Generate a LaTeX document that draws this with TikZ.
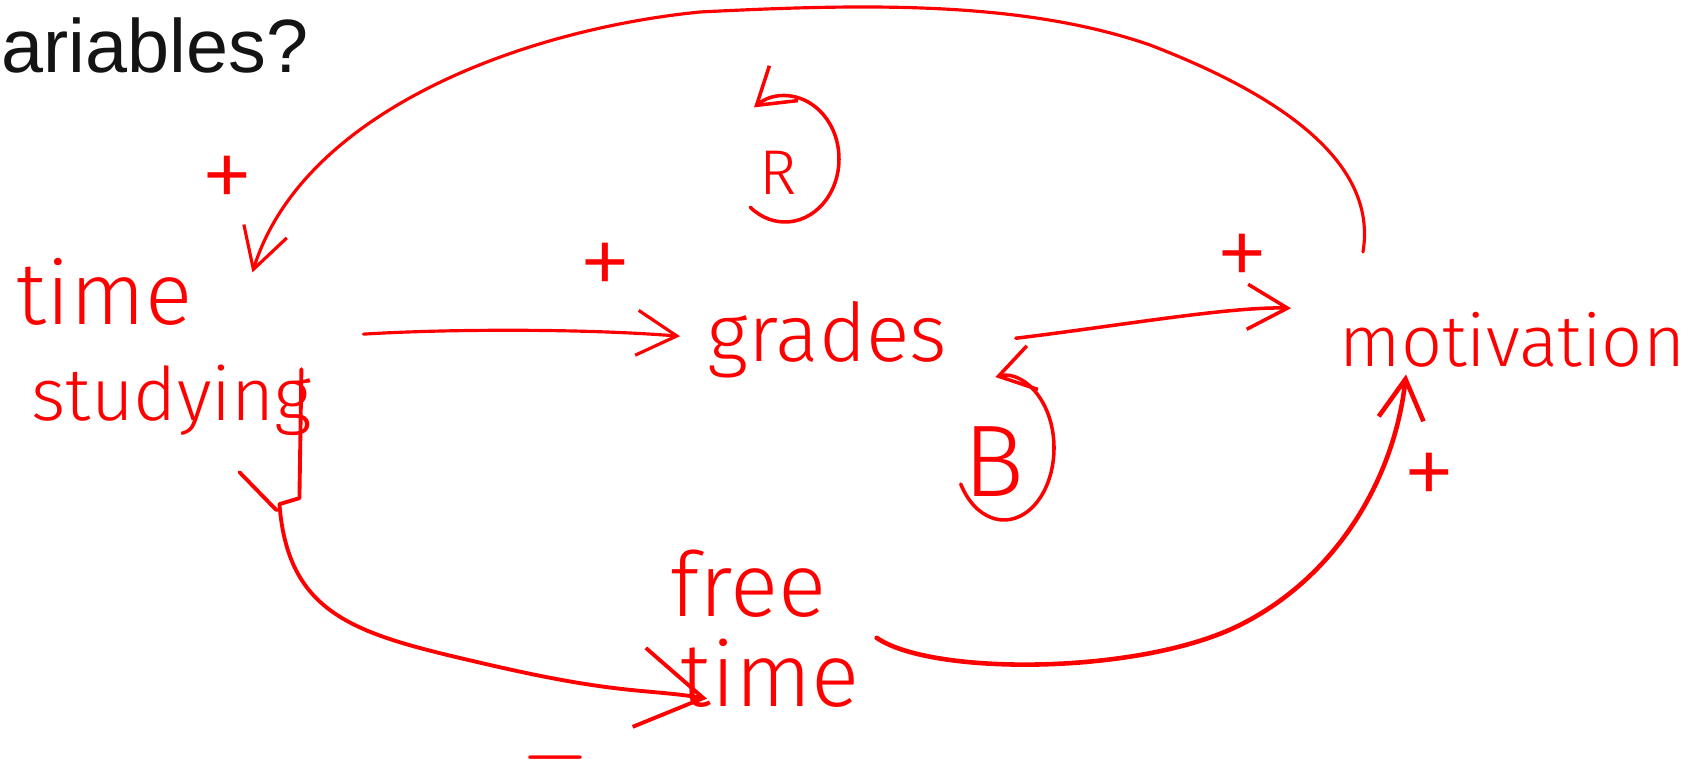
\documentclass[tikz,border=0pt]{standalone}
\usepackage{fontspec}
\usetikzlibrary{arrows.meta,positioning,calc}
\newfontfamily\slidefont{Liberation Sans}
\newfontfamily\handfont{Fira Sans Light}
\definecolor{inkred}{RGB}{255,0,0}
\definecolor{slidetext}{gray}{0.08}
\tikzset{
  varnode/.style={
    text=inkred, font=\handfont\fontsize{21}{27.5}\selectfont,
    align=left, inner sep=0pt, anchor=base west
  },
  polarity/.style={
    text=inkred, font=\handfont\fontsize{31}{31}\selectfont, inner sep=0pt
  },
  looplabel/.style={
    text=inkred, font=\handfont\fontsize{18}{18}\selectfont, inner sep=0pt
  },
  inkline/.style={draw=inkred, line width=0.9pt, line cap=round, line join=round},
  link/.style={inkline, -{Straight Barb[length=4mm, width=4.5mm]}},
  loopmark/.style={inkline, line width=1pt, -{Straight Barb[length=3.5mm, width=4.5mm]}}
}

\begin{document}
\begin{tikzpicture}
  \useasboundingbox (0,0) rectangle (16.93,7.80);

  % slide title, cut at the left edge
  \node[anchor=base west, inner sep=0pt, text=slidetext,
        font=\slidefont\fontsize{21.5}{24}\selectfont] (title) at (0.01,7.07) {ariables?};

  % variables
  \node[varnode] (study) at (0.16,3.59) {{\fontsize{25}{27.5}\selectfont time}\\\hspace*{0.15cm}studying};
  \node[varnode, font=\handfont\fontsize{23}{28}\selectfont] (grades) at (7.07,4.18) {grades};
  \node[varnode, font=\handfont\fontsize{20.5}{25}\selectfont] (motiv) at (13.39,4.13) {motivation};
  \node[varnode, font=\handfont\fontsize{25.5}{25.8}\selectfont] (free) at (6.70,0.73) {free\\\hspace*{0.1cm}time};

  % loop markers
  \node[looplabel] (rl) at (7.78,6.07) {R};
  \node[looplabel, font=\handfont\fontsize{29}{29}\selectfont] (bl) at (9.94,3.18) {B};
  \draw[loopmark] (rl.center) ++(0.07,0.14) ++(-130:0.54 and 0.63)
    arc[start angle=-130, end angle=125, x radius=0.54, y radius=0.63];
  \draw[loopmark] (bl.center) ++(0.10,0.14) ++(-150:0.5 and 0.72)
    arc[start angle=-150, end angle=100, x radius=0.5, y radius=0.72];

  % polarities
  \node[polarity] (p1) at (2.27,5.96) {+};
  \node[polarity] (p2) at (6.05,5.09) {+};
  \node[polarity] (p3) at (12.42,5.18) {+};
  \node[polarity] (p4) at (14.29,2.99) {+};
  \node[polarity, anchor=south, text depth=0pt, font=\handfont\fontsize{26}{26}\selectfont]
    (m1) at (5.56,0.0) {$-$};

  % links
  \draw[link] ([shift={(0.51,0.13)}]study.east)
    .. controls +(0.8,0.05) and +(-1.0,0.08) .. ([shift={(-0.27,0.04)}]grades.west);
  \draw[link, line width=1pt] ([shift={(0.68,0.02)}]grades.east)
    .. controls +(1,0.12) and +(-0.6,0.02) .. ([shift={(-0.48,0.32)}]motiv.west);
  \draw[link] ([shift={(0.24,0.60)}]motiv.north west)
    .. controls +(0.15,0.9) and +(1.3,-0.5) .. (11.5,7.35)
    .. controls +(-1.3,0.45) and +(1.6,0.08) .. (7.0,7.68)
    .. controls +(-1.8,-0.18) and +(0.5,1.6) .. ([shift={(-0.60,-0.15)}]study.north east);
  \draw[link, line width=1.1pt, -{Straight Barb[length=6.5mm, width=8mm]}]
    ([shift={(-0.11,-0.22)}]study.east) -- ++(-0.02,-1.29) -- ++(-0.2,-0.06) coordinate (kink)
    .. controls +(0.09,-1.15) and +(-1.3,0.3) .. (4.9,1.15)
    .. controls +(1.3,-0.3) and +(-0.6,0.1) .. ([shift={(0.37,0.10)}]free.south west);
  \draw[inkline, line width=1.1pt] ([shift={(-0.03,-0.06)}]kink) -- ++(-0.37,0.38);
  \draw[link, line width=1.3pt] ([shift={(0.16,-0.09)}]free.east)
    .. controls +(0.55,-0.38) and +(-1.0,-0.5) .. (12.4,1.55)
    .. controls +(1.0,0.5) and +(-0.11,-1.0) .. ([shift={(0.67,-0.06)}]motiv.south west);
\end{tikzpicture}
\end{document}
